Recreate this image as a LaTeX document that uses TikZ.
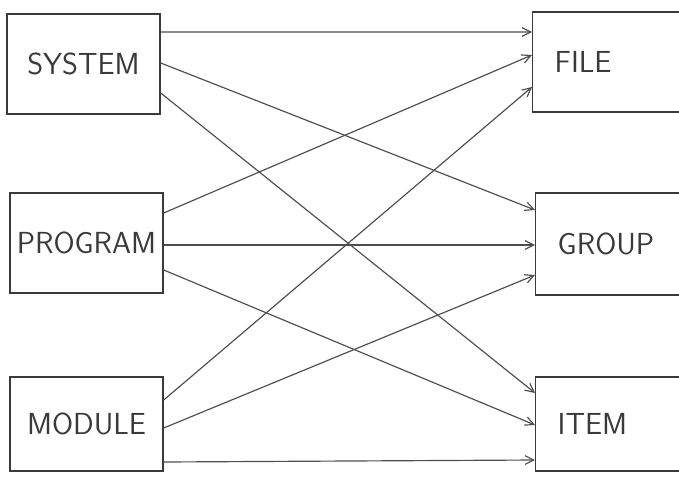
\documentclass[tikz,border=0pt]{standalone}
\usetikzlibrary{arrows.meta, positioning, calc}
\definecolor{pencil}{HTML}{3A3A3A}
\definecolor{lead}{HTML}{4E4E4E}

\begin{document}
\begin{tikzpicture}[
  x=0.03cm, y=-0.03cm,
  box/.style   = {draw=pencil, line width=1.2pt, minimum width=4.59cm,
                  minimum height=3.0cm, inner sep=2pt, text=pencil,
                  font=\sffamily\fontsize{26}{30}\selectfont},
  tbox/.style  = {box, anchor=west, text width=4.6cm, align=left,
                  inner xsep=0.66cm},
  flow/.style  = {-{Straight Barb[length=2.6mm, width=2.6mm]}, lead,
                  line width=1pt},
]
\clip (0,0) rectangle (679,478);

% ---------- source boxes ----------
\node[box] (sys)  at (83.5,64)  {SYSTEM};
\node[box] (prog) at (86.5,243) {PROGRAM};
\node[box, minimum height=2.82cm] (mod) at (86.5,424) {MODULE};

% ---------- target boxes ----------
\node[tbox] (file) at (532,62)  {FILE};
\node[tbox, minimum height=3.06cm] (grp) at (535,244) {GROUP};
\node[tbox, minimum height=2.82cm] (item) at (535,424) {ITEM};

% ---------- every source -> every target ----------
\foreach \a/\da/\b/\db in {sys/0.96/file/0.90, sys/0.03/grp/1.02, sys/-0.87/item/0.93,
                           prog/0.90/file/0.21, prog/-0.06/grp/-0.03, prog/-0.81/item/-0.03,
                           mod/0.72/file/-0.75, mod/-0.12/grp/-0.93, mod/-1.14/item/-1.08}{
  \draw[flow] ([yshift=\da cm]\a.east) -- ([yshift=\db cm]\b.west);
}

\end{tikzpicture}
\end{document}
